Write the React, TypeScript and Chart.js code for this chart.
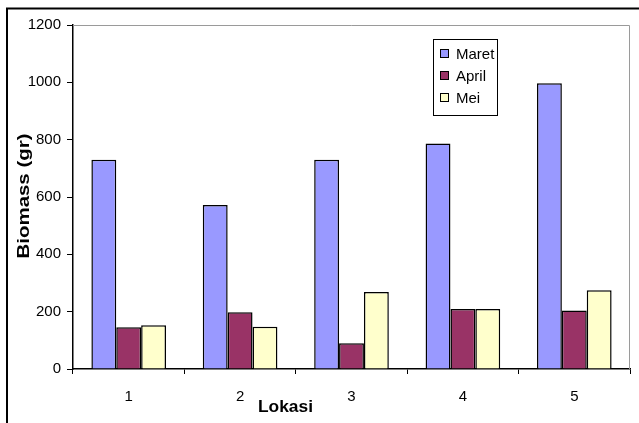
import React, { useEffect, useRef } from 'react';
import { Chart, registerables } from 'chart.js';

Chart.register(...registerables);

const categories = ['1', '2', '3', '4', '5'];
const seriesNames = ['Maret', 'April', 'Mei'];
const maret = [730, 572, 730, 787, 997];
const april = [146, 198, 90, 209, 204];
const mei = [153, 147, 269, 209, 275];
const seriesColors = ['#9999FF', '#993366', '#FFFFCC'];
const yMin = 0;
const yMax = 1200;
const yStep = 200;
const xTitle = 'Lokasi';
const yTitle = 'Biomass (gr)';

const FONT = '"Liberation Sans", Arial, sans-serif';

const decorPlugin = {
  id: 'decor',
  beforeDraw(chart: any) {
    const ctx = chart.ctx;
    ctx.save();
    ctx.fillStyle = '#ffffff';
    ctx.fillRect(0, 0, chart.width, chart.height);
    ctx.restore();
  },
  afterDraw(chart: any) {
    const ctx = chart.ctx;
    const area = chart.chartArea;
    ctx.save();
    // outer frame
    ctx.strokeStyle = '#000000';
    ctx.lineWidth = 2;
    ctx.strokeRect(7, 8.5, chart.width + 50, chart.height + 50);
    // plot border top/right (gray)
    ctx.strokeStyle = '#9a9a9a';
    ctx.lineWidth = 1;
    ctx.beginPath();
    ctx.moveTo(area.left, Math.round(area.top) + 0.5);
    ctx.lineTo(Math.round(area.right) - 0.5, Math.round(area.top) + 0.5);
    ctx.lineTo(Math.round(area.right) - 0.5, area.bottom);
    ctx.stroke();

    // legend
    const lx = 433, ly = 39, lw = 64, lh = 76;
    ctx.fillStyle = '#ffffff';
    ctx.fillRect(lx, ly, lw, lh);
    ctx.strokeStyle = '#000000';
    ctx.lineWidth = 1;
    ctx.strokeRect(lx + 0.5, ly + 0.5, lw, lh);
    const rows = [54, 76, 98];
    chart.data.datasets.forEach((ds: any, i: number) => {
      const cy = rows[i];
      ctx.fillStyle = ds.backgroundColor;
      ctx.fillRect(440.5, cy - 4.5, 8, 8);
      ctx.strokeStyle = '#000000';
      ctx.lineWidth = 1;
      ctx.strokeRect(440.5, cy - 4.5, 8, 8);
      ctx.fillStyle = '#000000';
      ctx.font = `15px ${FONT}`;
      ctx.textAlign = 'left';
      ctx.textBaseline = 'middle';
      ctx.fillText(ds.label, 456, cy + 0.5);
    });

    // axis titles
    ctx.fillStyle = '#000000';
    ctx.font = `bold 17px ${FONT}`;
    ctx.textAlign = 'center';
    ctx.textBaseline = 'middle';
    {
      const w = ctx.measureText(xTitle).width;
      const sx = 55 / w;
      ctx.save();
      ctx.translate(285.5, 407);
      ctx.scale(sx, 1);
      ctx.fillText(xTitle, 0, 0);
      ctx.restore();
    }
    {
      const w = ctx.measureText(yTitle).width;
      const sx = 125 / w;
      ctx.save();
      ctx.translate(24.5, 196);
      ctx.rotate(-Math.PI / 2);
      ctx.scale(sx, 1);
      ctx.fillText(yTitle, 0, 0);
      ctx.restore();
    }
    ctx.restore();
  },
};

export default function App() {
  const ref = useRef<HTMLCanvasElement | null>(null);
  useEffect(() => {
    if (!ref.current) return;
    const values = [maret, april, mei];
    const chart = new Chart(ref.current, {
      type: 'bar',
      data: {
        labels: categories,
        datasets: seriesNames.map((name, i) => ({
          label: name,
          data: values[i],
          backgroundColor: seriesColors[i],
          borderColor: '#000000',
          borderWidth: 1.5,
          categoryPercentage: 0.67,
          barPercentage: 1.0,
        })),
      },
      options: {
        responsive: false,
        animation: false,
        devicePixelRatio: 1,
        layout: { padding: { left: 0, top: 25, right: 9, bottom: 0 } },
        plugins: {
          legend: { display: false },
          tooltip: { enabled: false },
          title: { display: false },
        },
        scales: {
          x: {
            offset: true,
            grid: {
              offset: true,
              drawOnChartArea: false,
              drawTicks: true,
              tickLength: 5,
              color: '#000000',
              lineWidth: 1,
            },
            border: { display: true, color: '#000000', width: 1.5 },
            ticks: {
              color: '#000000',
              font: { family: FONT, size: 15 },
              padding: 14,
              maxRotation: 0,
            },
            afterFit(scale: any) {
              scale.height = 54;
            },
          },
          y: {
            min: yMin,
            max: yMax,
            grid: {
              drawOnChartArea: false,
              drawTicks: true,
              tickLength: 6,
              color: '#000000',
              lineWidth: 1,
            },
            border: { display: true, color: '#000000', width: 1.5 },
            ticks: {
              stepSize: yStep,
              color: '#000000',
              font: { family: FONT, size: 15 },
              padding: 6,
              callback: (v: any) => String(v),
            },
            afterFit(scale: any) {
              scale.width = 73;
            },
          },
        },
      },
      plugins: [decorPlugin],
    } as any);
    return () => chart.destroy();
  }, []);
  return (
    <div style={{ position: 'fixed', left: 0, top: 0, width: 639, height: 423, background: '#ffffff' }}>
      <canvas ref={ref} width={639} height={423} style={{ display: 'block' }} />
    </div>
  );
}
